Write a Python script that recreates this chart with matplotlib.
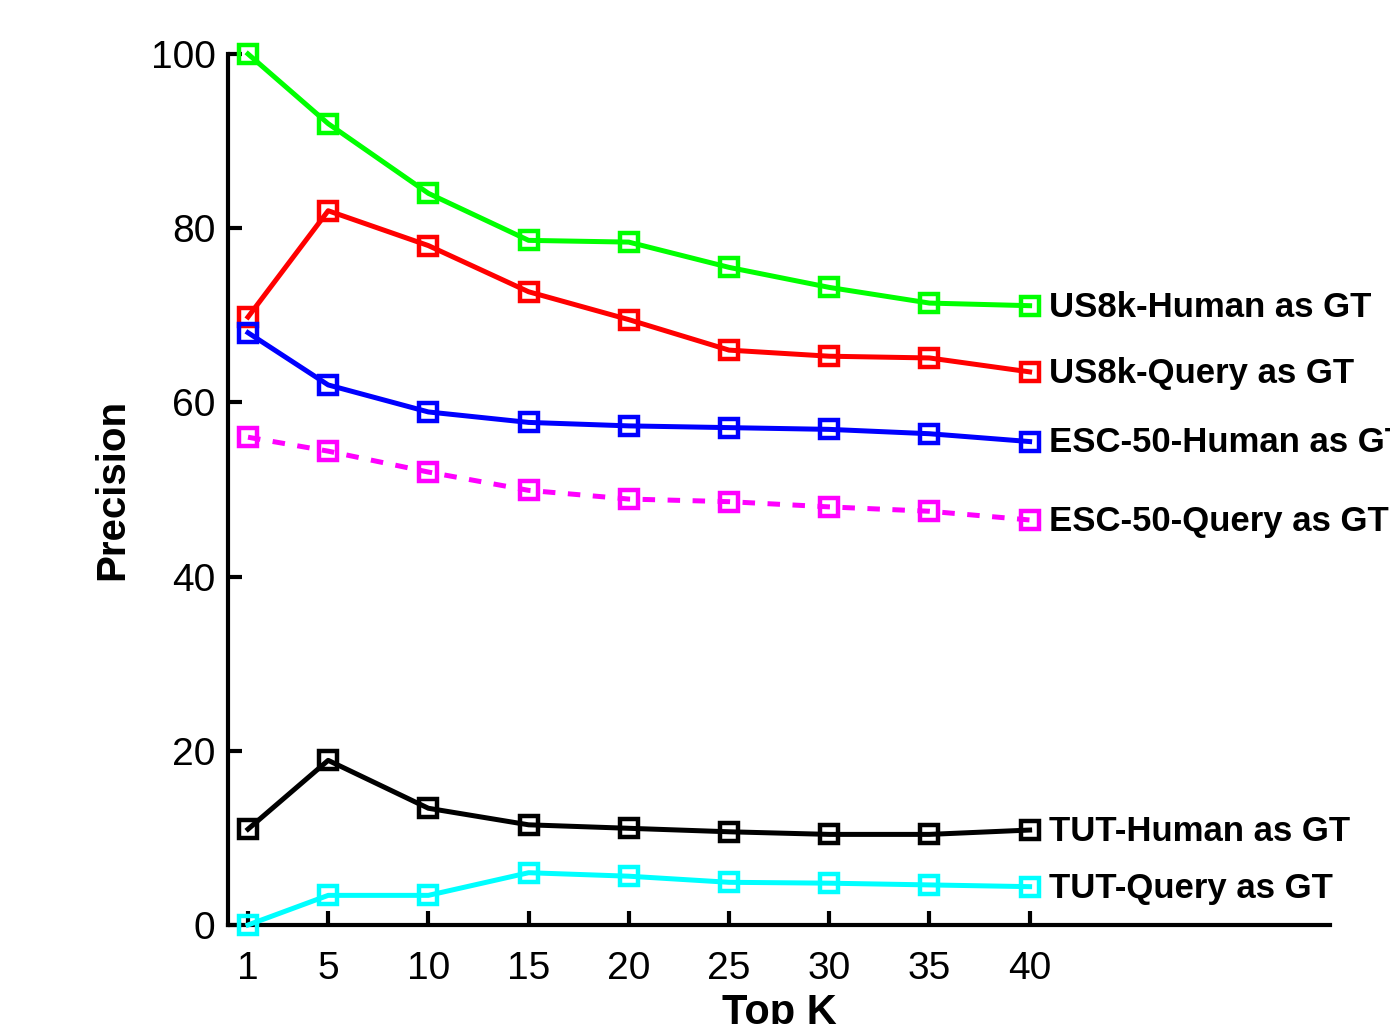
import matplotlib
matplotlib.use('Agg')
import matplotlib.pyplot as plt

plt.rcParams['font.family'] = ['Liberation Sans', 'DejaVu Sans']

top_k = [1, 5, 10, 15, 20, 25, 30, 35, 40]

us8k_human = [100.0, 92.0, 84.0, 78.6, 78.4, 75.5, 73.2, 71.4, 71.1]
us8k_query = [69.8, 82.0, 78.0, 72.7, 69.5, 66.0, 65.3, 65.1, 63.5]
esc_human = [68.0, 62.0, 58.9, 57.7, 57.3, 57.1, 56.9, 56.4, 55.5]
esc_query = [56.0, 54.4, 52.0, 49.9, 48.9, 48.6, 48.0, 47.5, 46.5]
tut_human = [11.0, 18.9, 13.4, 11.5, 11.1, 10.7, 10.4, 10.4, 10.9]
tut_query = [0.0, 3.4, 3.4, 6.0, 5.6, 4.9, 4.8, 4.6, 4.4]

series = [
    ('US8k-Human as GT', us8k_human, '#00ff00', '-'),
    ('US8k-Query as GT', us8k_query, '#ff0000', '-'),
    ('ESC-50-Human as GT', esc_human, '#0000ff', '-'),
    ('ESC-50-Query as GT', esc_query, '#ff00ff', (0, (2.5, 2.5))),
    ('TUT-Human as GT', tut_human, '#000000', '-'),
    ('TUT-Query as GT', tut_query, '#00ffff', '-'),
]

fig = plt.figure(figsize=(13.9, 10.24), dpi=100)
ax = fig.add_axes([0.164, 0.0967, 0.793, 0.8506])

for name, vals, col, ls in series:
    ax.plot(top_k, vals, color=col, linestyle=ls, linewidth=3.6,
            marker='s', markersize=12.5, markerfacecolor='none',
            markeredgewidth=3.2, clip_on=False, zorder=3)
    ax.annotate(name, xy=(top_k[-1], vals[-1]), xytext=(14, -1),
                textcoords='offset points', va='center', ha='left',
                fontsize=25, fontweight='bold', annotation_clip=False)

ax.set_xlim(0, 55)
ax.set_ylim(0, 100)
ax.set_xticks(top_k)
ax.set_yticks([0, 20, 40, 60, 80, 100])
ax.tick_params(direction='in', length=10, width=3, labelsize=28)
ax.tick_params(axis='x', pad=19)
ax.tick_params(axis='y', pad=9)
for s in ['top', 'right']:
    ax.spines[s].set_visible(False)
for s in ['left', 'bottom']:
    ax.spines[s].set_linewidth(3)

ax.set_xlabel('Top K', fontsize=30, fontweight='bold', labelpad=4)
ax.set_ylabel('Precision', fontsize=29, fontweight='bold', labelpad=14)

fig.savefig('out.png', dpi=100)
